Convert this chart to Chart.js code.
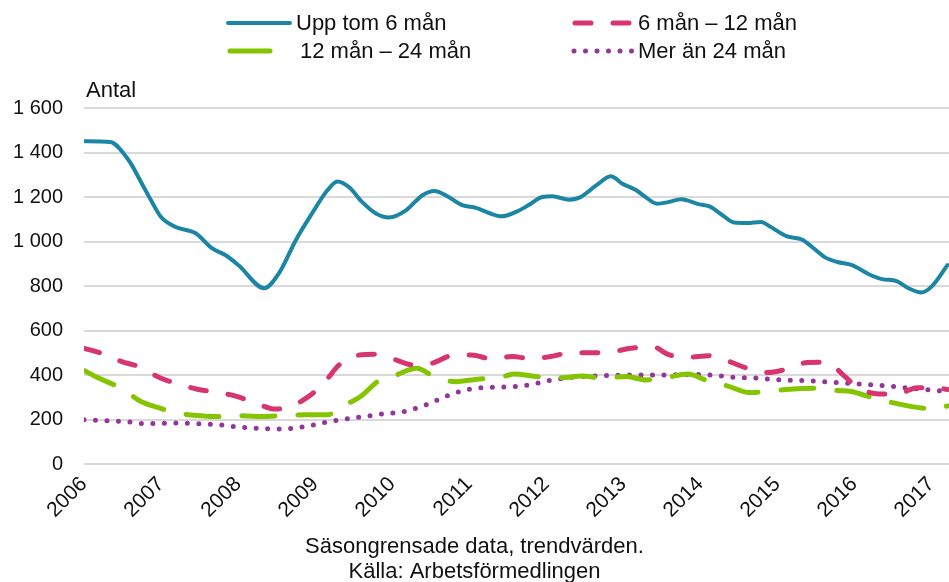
<!DOCTYPE html>
<html lang="sv">
<head>
<meta charset="utf-8">
<title>Antal efter tid</title>
<script src="https://cdn.jsdelivr.net/npm/chart.js@4.4.1/dist/chart.umd.min.js"></script>
<style>
  html, body { margin: 0; padding: 0; background: #fff; }
  #wrap { width: 949px; height: 582px; position: relative; }
</style>
</head>
<body>
<div id="wrap"><canvas id="myChart" width="949" height="582"></canvas></div>
<script>
// Serienamn
const seriesLabels = ['Upp tom 6 mån', '6 mån – 12 mån', '12 mån – 24 mån', 'Mer än 24 mån'];

// Upp tom 6 mån (tid i år, antal)
const blueX = [2006.00, 2006.34, 2006.58, 2006.75, 2006.87, 2007.00, 2007.19, 2007.45, 2007.66, 2007.84,
  2008.01, 2008.34, 2008.53, 2008.75, 2008.96, 2009.16, 2009.29, 2009.44, 2009.61, 2009.79, 2009.96,
  2010.18, 2010.39, 2010.55, 2010.70, 2010.91, 2011.09, 2011.26, 2011.42, 2011.61, 2011.78, 2011.95,
  2012.08, 2012.30, 2012.43, 2012.65, 2012.84, 2012.99, 2013.17, 2013.30, 2013.44, 2013.60, 2013.75,
  2013.99, 2014.12, 2014.29, 2014.44, 2014.60, 2014.79, 2014.90, 2015.12, 2015.32, 2015.45, 2015.61,
  2015.78, 2015.97, 2016.19, 2016.36, 2016.55, 2016.71, 2016.87, 2017.00, 2017.21];
const blueY = [1451, 1447, 1365, 1261, 1185, 1110, 1065, 1037, 970, 938,
  892, 790, 857, 1006, 1126, 1230, 1270, 1245, 1178, 1126, 1108,
  1140, 1207, 1227, 1207, 1163, 1151, 1128, 1113, 1133, 1165, 1200,
  1203, 1188, 1197, 1252, 1293, 1260, 1230, 1197, 1170, 1178, 1190,
  1167, 1158, 1118, 1085, 1083, 1088, 1069, 1024, 1009, 976, 931,
  908, 894, 853, 831, 822, 789, 771, 796, 894];

// 6 mån – 12 mån
const pinkX = [2006.00, 2006.19, 2006.49, 2006.71, 2006.97, 2007.19, 2007.47, 2007.71, 2007.97,
  2008.21, 2008.49, 2008.70, 2008.96, 2009.12, 2009.31, 2009.51, 2009.79, 2009.95, 2010.29, 2010.52,
  2010.81, 2011.03, 2011.30, 2011.55, 2011.82, 2012.06, 2012.32, 2012.58, 2012.86, 2013.10, 2013.38,
  2013.60, 2013.84, 2014.12, 2014.38, 2014.61, 2014.87, 2015.12, 2015.39, 2015.64, 2015.87, 2016.03,
  2016.32, 2016.55, 2016.82, 2017.04, 2017.21];
const pinkY = [520, 502, 460, 438, 390, 363, 336, 323, 305,
  276, 247, 261, 315, 366, 445, 486, 493, 480, 445, 453,
  490, 490, 472, 483, 473, 483, 500, 500, 505, 520, 527,
  490, 480, 486, 460, 430, 411, 426, 456, 457, 396, 348,
  315, 315, 343, 343, 335];

// 12 mån – 24 mån
const greenX = [2006.00, 2006.19, 2006.48, 2006.74, 2006.94, 2007.21, 2007.52, 2007.75, 2008.05,
  2008.31, 2008.57, 2008.86, 2009.16, 2009.35, 2009.60, 2009.83, 2010.05, 2010.32, 2010.58, 2010.83,
  2011.10, 2011.42, 2011.58, 2011.87, 2012.21, 2012.47, 2012.73, 2013.04, 2013.30, 2013.53, 2013.84,
  2014.12, 2014.35, 2014.64, 2014.86, 2015.16, 2015.45, 2015.78, 2015.96, 2016.26, 2016.75, 2017.06,
  2017.21];
const greenY = [420, 386, 341, 281, 256, 229, 217, 213, 217,
  213, 217, 221, 221, 258, 306, 375, 400, 430, 386, 370,
  381, 390, 405, 393, 388, 396, 386, 393, 378, 386, 405,
  370, 351, 321, 326, 336, 341, 330, 326, 296, 258, 247,
  261];

// Mer än 24 mån
const purpleX = [2006.00, 2006.30, 2006.61, 2006.75, 2007.19, 2007.49, 2007.79, 2007.95, 2008.38,
  2008.53, 2008.83, 2008.99, 2009.14, 2009.42, 2009.73, 2009.87, 2010.16, 2010.44, 2010.71, 2011.00,
  2011.30, 2011.61, 2011.78, 2012.04, 2012.34, 2012.65, 2012.92, 2013.23, 2013.53, 2013.83, 2014.14,
  2014.42, 2014.73, 2015.03, 2015.32, 2015.61, 2015.91, 2016.22, 2016.51, 2016.81, 2017.10, 2017.21];
const purpleY = [199, 194, 188, 182, 184, 181, 175, 168, 158,
  157, 166, 176, 188, 203, 218, 225, 236, 266, 306, 336,
  345, 348, 356, 375, 390, 396, 399, 400, 400, 402, 400,
  390, 386, 378, 375, 370, 363, 356, 348, 338, 329, 325];

// Axlar och texter
const yTicks = [0, 200, 400, 600, 800, 1000, 1200, 1400, 1600];
const yearFirst = 2006;
const yearLast = 2017;
const yTitle = 'Antal';
const footer = ['Säsongrensade data, trendvärden.', 'Källa: Arbetsförmedlingen'];

function points(xs, ys) {
  return xs.map((x, i) => ({x: x, y: ys[i]}));
}

function spaced(v) {
  return String(v).replace(/\B(?=(\d{3})+(?!\d))/g, ' ');
}

const font = 'Liberation Sans, Arial, sans-serif';

// Färger
const blue = '#1b86a4';
const pink = '#d6356f';
const green = '#84c400';
const purple = '#93369b';

// Egen legend + "Antal"
const legendPos = [
  {x1: 228, x2: 290, y: 23, tx: 296, ty: 30, dash: []},
  {x1: 575, x2: 630, y: 23, tx: 638, ty: 30, dash: [16, 22]},
  {x1: 230, x2: 270, y: 51, tx: 300, ty: 58, dash: []},
  {x1: 574, x2: 634, y: 51, tx: 638, ty: 58, dash: [0, 11.5]}
];

const customText = {
  id: 'customText',
  afterDraw(chart) {
    const ctx = chart.ctx;
    ctx.save();
    chart.data.datasets.forEach((ds, i) => {
      const p = legendPos[i];
      ctx.beginPath();
      ctx.strokeStyle = ds.borderColor;
      ctx.lineWidth = ds.borderWidth;
      ctx.lineCap = 'round';
      ctx.setLineDash(p.dash);
      ctx.moveTo(p.x1, p.y);
      ctx.lineTo(p.x2, p.y);
      ctx.stroke();
      ctx.setLineDash([]);
      ctx.fillStyle = '#111';
      ctx.font = '22px ' + font;
      ctx.textAlign = 'left';
      ctx.textBaseline = 'alphabetic';
      ctx.fillText(ds.label, p.tx, p.ty);
    });
    ctx.fillText(yTitle, 86, 97);
    ctx.restore();
  }
};

const ctx = document.getElementById('myChart').getContext('2d');

const chart = new Chart(ctx, {
  type: 'line',
  data: {
    datasets: [
      {
        label: seriesLabels[0],
        data: points(blueX, blueY),
        borderColor: blue,
        borderWidth: 4,
        borderCapStyle: 'round',
        cubicInterpolationMode: 'monotone',
        pointRadius: 0
      },
      {
        label: seriesLabels[1],
        data: points(pinkX, pinkY),
        borderColor: pink,
        borderWidth: 5,
        borderDash: [16, 22],
        borderCapStyle: 'round',
        cubicInterpolationMode: 'monotone',
        pointRadius: 0
      },
      {
        label: seriesLabels[2],
        data: points(greenX, greenY),
        borderColor: green,
        borderWidth: 5,
        borderDash: [33, 23],
        borderCapStyle: 'round',
        cubicInterpolationMode: 'monotone',
        pointRadius: 0
      },
      {
        label: seriesLabels[3],
        data: points(purpleX, purpleY),
        borderColor: purple,
        borderWidth: 5,
        borderDash: [0, 11.5],
        borderCapStyle: 'round',
        cubicInterpolationMode: 'monotone',
        pointRadius: 0
      }
    ]
  },
  options: {
    responsive: false,
    animation: false,
    events: [],
    layout: {
      padding: {top: 108, left: 0, right: 0, bottom: 0}
    },
    plugins: {
      legend: {display: false},
      tooltip: {enabled: false},
      title: {
        display: true,
        position: 'bottom',
        text: footer,
        color: '#111',
        font: {family: font, size: 22, weight: 'normal', lineHeight: 25 / 22},
        padding: {top: 0, bottom: -2.5}
      }
    },
    scales: {
      x: {
        type: 'linear',
        min: yearFirst,
        max: 2017.23,
        grid: {display: false},
        border: {display: false},
        afterFit(scale) {
          scale.height = 70.5;
          scale.paddingRight = 0;
        },
        ticks: {
          stepSize: 1,
          includeBounds: false,
          autoSkip: false,
          minRotation: 45,
          maxRotation: 45,
          padding: 0,
          color: '#111',
          font: {family: font, size: 21},
          callback: (v) => (Number.isInteger(v) && v >= yearFirst && v <= yearLast) ? String(v) : ''
        }
      },
      y: {
        min: 0,
        max: 1600,
        afterFit(scale) {
          scale.width = 84;
        },
        afterBuildTicks(scale) {
          scale.ticks = yTicks.map(v => ({value: v}));
        },
        grid: {
          color: '#d9d9d9',
          lineWidth: 2,
          drawTicks: false
        },
        border: {display: false},
        ticks: {
          padding: 21,
          color: '#111',
          font: {family: font, size: 20},
          callback: (v) => spaced(v)
        }
      }
    }
  },
  plugins: [customText]
});
</script>
</body>
</html>
